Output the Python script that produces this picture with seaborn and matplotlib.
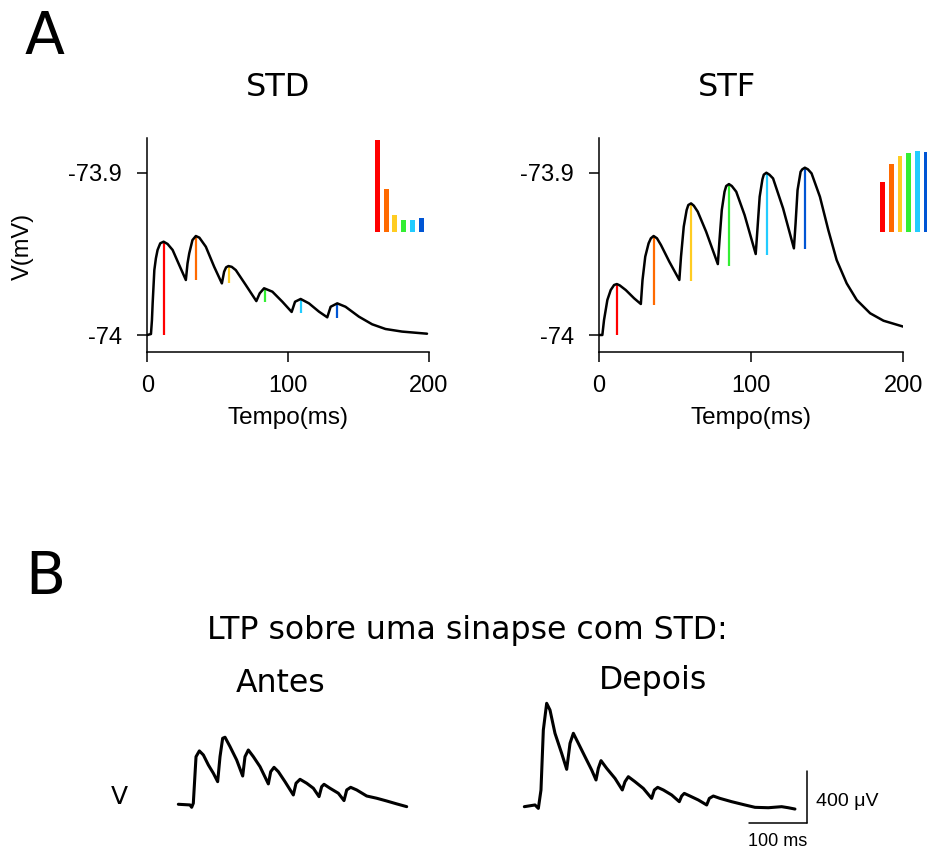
import matplotlib
matplotlib.use("Agg")
import matplotlib.pyplot as plt
import seaborn as sns
import pandas as pd

# ---------------- data ----------------
STD_T = [0, 2.6, 3.3, 3.8, 5.0, 6.1, 7.3, 9.2, 11.6, 14.4, 18.0, 22.7, 27.4, 28.6, 29.8,
         32.1, 34.5, 37.0, 41.6, 47.5, 53.0, 54.6, 56.0, 57.7, 60.0, 62.9, 70.0, 77.5,
         79.9, 83.0, 88.9, 96.0, 102.6, 105.0, 109.0, 114.9, 122.0, 127.9, 130.3, 135.0,
         140.9, 150.4, 159.8, 169.3, 181.1, 198.8]
STD_V = [-74.0, -73.9994, -73.9908, -73.9805, -73.9600, -73.9528, -73.9476, -73.9435,
         -73.9425, -73.9439, -73.9476, -73.9569, -73.9661, -73.9558, -73.9497, -73.9415,
         -73.9390, -73.9400, -73.9456, -73.9579, -73.9682, -73.9610, -73.9583, -73.9575,
         -73.9580, -73.9600, -73.9692, -73.9791, -73.9743, -73.9712, -73.9733, -73.9795,
         -73.9858, -73.9795, -73.9778, -73.9805, -73.9856, -73.9891, -73.9826, -73.9805,
         -73.9826, -73.9887, -73.9934, -73.9963, -73.9979, -73.9992]
STF_T = [0, 2.2, 3.3, 5.5, 7.7, 9.9, 11.7, 13.6, 17.6, 23.1, 27.5, 28.6, 30.4, 32.6, 34.1,
         35.9, 38.1, 40.7, 46.2, 52.8, 53.9, 55.7, 57.6, 58.7, 60.5, 62.3, 64.9, 70.4,
         78.1, 79.2, 80.7, 82.5, 83.6, 85.4, 87.3, 90.2, 95.7, 103.0, 104.1, 105.6, 107.4,
         108.3, 110.0, 112.0, 114.4, 121.0, 128.1, 129.2, 130.5, 132.5, 133.6, 135.3,
         137.3, 139.7, 145.2, 150.7, 156.2, 162.8, 169.4, 178.2, 187.0, 200.2]
STF_V = [-74.0, -74.0, -73.9908, -73.9784, -73.9723, -73.9692, -73.9686, -73.9694,
         -73.9723, -73.9774, -73.9809, -73.9661, -73.9517, -73.9435, -73.9404, -73.9390,
         -73.9404, -73.9445, -73.9548, -73.9661, -73.9517, -73.9332, -73.9230, -73.9199,
         -73.9189, -73.9203, -73.9240, -73.9363, -73.9563, -73.9415, -73.9230, -73.9117,
         -73.9082, -73.9070, -73.9082, -73.9117, -73.9261, -73.9501, -73.9353, -73.9148,
         -73.9041, -73.9012, -73.9000, -73.9012, -73.9035, -73.9220, -73.9466, -73.9312,
         -73.9107, -73.8994, -73.8979, -73.8969, -73.8979, -73.9004, -73.9148, -73.9353,
         -73.9538, -73.9682, -73.9784, -73.9866, -73.9912, -73.9949]

STD_STIM_T = [11.6, 34.5, 58.2, 83.5, 109.2, 134.8]
STD_STIM_LO = [-74.0, -73.9661, -73.9682, -73.9795, -73.9866, -73.9897]
STD_STIM_HI = [-73.9425, -73.9390, -73.9575, -73.9712, -73.9778, -73.9805]
STF_STIM_T = [11.9, 35.9, 60.5, 85.4, 110.2, 135.5]
STF_STIM_LO = [-74.0, -73.9815, -73.9667, -73.9573, -73.9507, -73.9470]
STF_STIM_HI = [-73.9686, -73.9390, -73.9189, -73.9070, -73.9000, -73.8969]

STD_AMP = [1.0, 0.47, 0.19, 0.13, 0.13, 0.15]
STF_AMP = [0.54, 0.74, 0.83, 0.86, 0.88, 0.87]
SPIKE_IDX = [0, 1, 2, 3, 4, 5]
SPIKE_COLORS = ["#ff0000", "#ff6a00", "#ffcc22", "#33ee33", "#22ccff", "#0055d4"]

X_TICKS = [0, 100, 200]
X_TICKLABELS = ["0", "100", "200"]
Y_TICKS = [-74.0, -73.9]
Y_TICKLABELS = ["-74", "-73.9"]

ANTES_T = [0, 20.3, 23.2, 26.1, 30.8, 36.6, 43.6, 52.3, 61.0, 68.5, 72.6, 77.2, 81.3, 90.0,
           101.6, 112.1, 116.1, 121.9, 130.7, 142.3, 156.8, 160.9, 166.7, 174.2, 185.8,
           200.3, 205.0, 212.0, 223.6, 235.2, 245.1, 249.7, 253.8, 264.2, 278.7, 288.6,
           293.3, 300.2, 310.7, 328.1, 345.5, 363.0, 380.4, 397.8]
ANTES_V = [0, -5, -23, 8, 362, 406, 375, 299, 236, 172, 362, 502, 510, 439, 337, 215, 362,
           413, 362, 286, 155, 248, 281, 248, 172, 71, 160, 190, 160, 122, 58, 134, 152,
           122, 84, 28, 109, 129, 109, 63, 46, 25, 3, -18]
DEPOIS_T = [0, 18.6, 24.4, 29.0, 33.1, 38.9, 44.7, 53.4, 65.0, 73.8, 79.6, 85.4, 94.1,
            105.7, 117.3, 124.9, 128.9, 133.6, 143.4, 158.0, 170.7, 175.4, 181.2, 192.8,
            207.3, 221.8, 226.5, 232.3, 242.2, 256.7, 270.0, 274.1, 278.7, 288.6, 303.1,
            317.7, 322.3, 329.3, 340.9, 361.2, 384.4, 401.9, 425.1, 448.3, 459.9, 471.5]
DEPOIS_V = [0, 13, -13, 127, 583, 786, 735, 558, 406, 284, 482, 558, 482, 380, 279, 203,
            292, 350, 292, 215, 127, 190, 228, 190, 139, 63, 127, 147, 127, 89, 38, 81,
            101, 81, 51, 13, 63, 81, 63, 38, 13, -5, -8, 0, -8, -18]
SCALE_MS = 100
SCALE_UV = 400

# ---------------- figure ----------------
sns.set_theme(style="ticks")
plt.rcParams["font.family"] = ["DejaVu Sans"]
plt.rcParams.update({"text.color": "black", "axes.labelcolor": "black",
                     "xtick.color": "black", "ytick.color": "black",
                     "axes.edgecolor": "black"})
W, H = 927, 852
fig = plt.figure(figsize=(W / 100, H / 100), dpi=100)
fig.patch.set_facecolor("white")

def add_ax(l, t, r, b):
    return fig.add_axes([l / W, 1 - b / H, (r - l) / W, (b - t) / H])

def ftext(x, y, s, **kw):
    fig.text(x / W, 1 - y / H, s, **kw)

ARIAL = "Liberation Sans"

def setup_panel(ax, t, v, st, lo, hi):
    ax.vlines(st, lo, hi, colors=SPIKE_COLORS, lw=1.6, zorder=2)
    sns.lineplot(x=t, y=v, ax=ax, color="black", lw=1.8, sort=False,
                 estimator=None, zorder=3)
    ax.set_xlim(0, 200)
    ax.set_ylim(-74.01066, -73.8786)
    ax.set_facecolor("none")
    for s in ["top", "right"]:
        ax.spines[s].set_visible(False)
    for s in ["left", "bottom"]:
        ax.spines[s].set_linewidth(1.1)
        ax.spines[s].set_color("black")
    ax.set_xticks(X_TICKS)
    ax.set_xticklabels(X_TICKLABELS, fontfamily=ARIAL, fontsize=17)
    ax.set_yticks(Y_TICKS)
    ax.set_yticklabels(Y_TICKLABELS, fontfamily=ARIAL, fontsize=17)
    ax.tick_params(axis="both", direction="out", length=7.2, width=1.1, color="black")
    ax.tick_params(axis="x", pad=9)
    ax.tick_params(axis="y", pad=11)
    ax.set_xlabel("Tempo(ms)", fontfamily=ARIAL, fontsize=17.5, labelpad=7)
    ax.set_ylabel("")

ax1 = add_ax(147.3, 138, 428.7, 352.3)
setup_panel(ax1, STD_T, STD_V, STD_STIM_T, STD_STIM_LO, STD_STIM_HI)
ax2 = add_ax(599, 138, 903.3, 352.3)
setup_panel(ax2, STF_T, STF_V, STF_STIM_T, STF_STIM_LO, STF_STIM_HI)

ftext(22.5, 246, "V(mV)", rotation=90, ha="center", va="center",
      fontfamily=ARIAL, fontsize=17)

# bar insets
def inset(l, amps):
    axi = add_ax(l, 140, l + 52.8, 232.3)
    df = pd.DataFrame({"i": SPIKE_IDX, "a": amps})
    sns.barplot(data=df, x="i", y="a", hue="i", palette=SPIKE_COLORS, legend=False,
                width=0.56, dodge=False, ax=axi, saturation=1, linewidth=0)
    axi.set_xlim(-0.5, 5.5)
    axi.set_ylim(0, 1)
    axi.axis("off")
    return axi

inset(372.9, STD_AMP)
inset(878.0, STF_AMP)

# titles / panel letters
ftext(25, 37, "A", fontsize=42, ha="left", va="center")
ftext(278, 87, "STD", fontsize=23, ha="center", va="center")
ftext(727, 87, "STF", fontsize=23, ha="center", va="center")
ftext(25, 577, "B", fontsize=42, ha="left", va="center")
ftext(467, 630, "LTP sobre uma sinapse com STD:", fontsize=22.7, ha="center", va="center")
ftext(281, 683, "Antes", fontsize=22.7, ha="center", va="center")
ftext(653, 681, "Depois", fontsize=22.7, ha="center", va="center")
ftext(119, 797, "V", fontsize=18, ha="center", va="center")

# bottom traces
axA = add_ax(172.6, 725.4, 413.7, 824.0)
sns.lineplot(x=ANTES_T, y=ANTES_V, ax=axA, color="black", lw=2.2, sort=False, estimator=None)
axA.set_xlim(-10, 410)
axA.set_ylim(-150, 600)
axA.axis("off")

axD = add_ax(518.6, 694.9, 811.3, 826.4)
sns.lineplot(x=DEPOIS_T, y=DEPOIS_V, ax=axD, color="black", lw=2.2, sort=False, estimator=None)
axD.set_xlim(-10, 500)
axD.set_ylim(-150, 850)
axD.axis("off")
x_end, y_low = 492, -126
axD.plot([x_end - SCALE_MS, x_end], [y_low, y_low], color="black", lw=1.1, clip_on=False)
axD.plot([x_end, x_end], [y_low, y_low + SCALE_UV], color="black", lw=1.1, clip_on=False)
axD.text(x_end + 17, 43, f"{SCALE_UV} μV", fontfamily=ARIAL, fontsize=14,
         ha="left", va="center", clip_on=False)
axD.text(x_end - SCALE_MS / 2, -268, f"{SCALE_MS} ms", fontfamily=ARIAL, fontsize=13,
         ha="center", va="center", clip_on=False)

fig.savefig("out.png", dpi=100, facecolor="white")
